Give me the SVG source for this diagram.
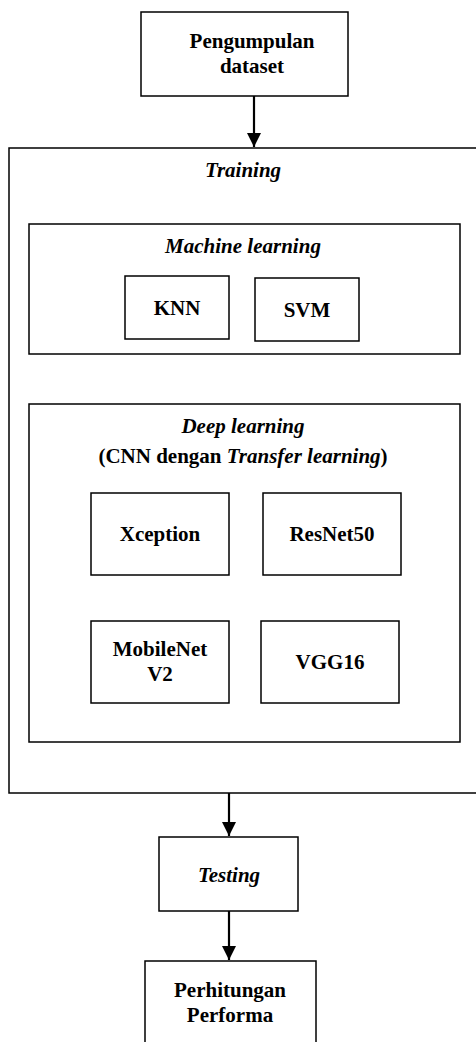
<svg xmlns="http://www.w3.org/2000/svg" width="476" height="1042" viewBox="0 0 476 1042">
<defs>
<style>
.box{fill:#fff;stroke:#000;stroke-width:1.5}
.t{font-family:"Liberation Serif","Times New Roman",serif;font-weight:bold;font-size:21px;fill:#000;text-anchor:middle}
.i{font-style:italic}
.c{stroke:#000;stroke-width:2.2;fill:none}
</style>
<marker id="ah" markerUnits="userSpaceOnUse" markerWidth="14" markerHeight="15" refX="14" refY="7" orient="auto">
<path d="M0,0 L14,7 L0,14 Z" fill="#000"/>
</marker>
</defs>
<rect width="476" height="1042" fill="#fff"/>
<g id="training">
<rect class="box" x="9" y="148" width="470" height="645"/>
<text class="t i" x="243" y="177">Training</text>
</g>
<g id="machine-learning">
<rect class="box" x="29" y="224" width="431" height="130"/>
<text class="t i" x="243" y="253">Machine learning</text>
</g>
<g id="knn">
<rect class="box" x="125" y="276" width="104" height="63"/>
<text class="t" x="177" y="315">KNN</text>
</g>
<g id="svm">
<rect class="box" x="255" y="278" width="104" height="63"/>
<text class="t" x="307" y="317">SVM</text>
</g>
<g id="deep-learning">
<rect class="box" x="29" y="404" width="431" height="338"/>
<text class="t i" x="243" y="433">Deep learning</text>
<text class="t" x="243" y="463">(CNN dengan <tspan class="i">Transfer learning</tspan>)</text>
</g>
<g id="xception">
<rect class="box" x="91" y="493" width="138" height="82"/>
<text class="t" x="160" y="541">Xception</text>
</g>
<g id="resnet50">
<rect class="box" x="263" y="493" width="138" height="82"/>
<text class="t" x="332" y="541">ResNet50</text>
</g>
<g id="mobilenetv2">
<rect class="box" x="91" y="621" width="138" height="82"/>
<text class="t" x="160" y="656">MobileNet</text>
<text class="t" x="160" y="681">V2</text>
</g>
<g id="vgg16">
<rect class="box" x="261" y="621" width="138" height="82"/>
<text class="t" x="330" y="669">VGG16</text>
</g>
<g id="pengumpulan">
<rect class="box" x="141" y="12" width="207" height="84"/>
<text class="t" x="252" y="48">Pengumpulan</text>
<text class="t" x="252" y="73">dataset</text>
</g>
<g id="testing">
<rect class="box" x="159" y="837" width="139" height="74"/>
<text class="t i" x="229" y="882">Testing</text>
</g>
<g id="perhitungan">
<rect class="box" x="145" y="961" width="171" height="90"/>
<text class="t" x="230" y="997">Perhitungan</text>
<text class="t" x="230" y="1022">Performa</text>
</g>
<g id="connectors">
<line class="c" x1="254" y1="96" x2="254" y2="147" marker-end="url(#ah)"/>
<line class="c" x1="229" y1="793" x2="229" y2="836" marker-end="url(#ah)"/>
<line class="c" x1="229" y1="911" x2="229" y2="960" marker-end="url(#ah)"/>
</g>
</svg>
